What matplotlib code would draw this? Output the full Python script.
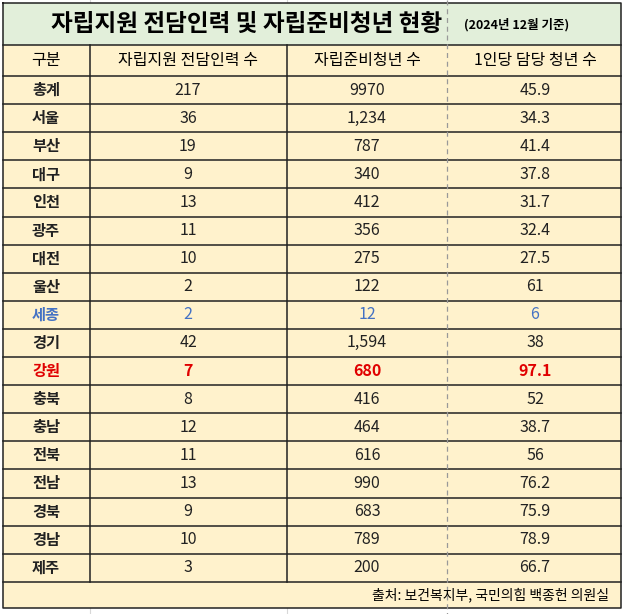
import matplotlib
matplotlib.use("Agg")
import matplotlib.pyplot as plt
from matplotlib.patches import Rectangle

title = "자립지원 전담인력 및 자립준비청년 현황"
subtitle = "(2024년 12월 기준)"
headers = ["구분", "자립지원 전담인력 수", "자립준비청년 수", "1인당 담당 청년 수"]
regions = ["총계", "서울", "부산", "대구", "인천", "광주", "대전", "울산", "세종", "경기",
           "강원", "충북", "충남", "전북", "전남", "경북", "경남", "제주"]
staff = ["217", "36", "19", "9", "13", "11", "10", "2", "2", "42", "7", "8", "12", "11", "13", "9", "10", "3"]
youth = ["9970", "1,234", "787", "340", "412", "356", "275", "122", "12", "1,594", "680", "416", "464", "616", "990", "683", "789", "200"]
per = ["45.9", "34.3", "41.4", "37.8", "31.7", "32.4", "27.5", "61", "6", "38", "97.1", "52", "38.7", "56", "76.2", "75.9", "78.9", "66.7"]
source = "출처: 보건복지부, 국민의힘 백종헌 의원실"

W, H = 627, 614
fig = plt.figure(figsize=(W/100, H/100), dpi=100)
ax = fig.add_axes([0, 0, 1, 1])
ax.set_xlim(0, W); ax.set_ylim(H, 0); ax.axis("off")
F = "Noto Sans CJK KR"

L, R = 3, 621
top, t_bot, h_bot = 3, 45, 76
rh = 28.1
body_bot = h_bot + rh*len(regions)
bot = 608

for x in [90, 287]:
    ax.plot([x, x], [0, H], color="#d8d8d8", lw=0.8, zorder=0)
ax.add_patch(Rectangle((L, top), R-L, t_bot-top, fc="#E2EFDA", ec="none", zorder=1))
ax.add_patch(Rectangle((L, t_bot), R-L, bot-t_bot, fc="#FFF2CC", ec="none", zorder=1))
lk = dict(color="#222222", lw=1.1, zorder=3)
ax.plot([L, R, R, L, L], [top, top, bot, bot, top], **lk)
ax.plot([L, R], [t_bot, t_bot], **lk)
for i in range(len(regions)+1):
    y = h_bot + rh*i
    ax.plot([L, R], [y, y], **lk)
for x in [90, 287]:
    ax.plot([x, x], [t_bot, body_bot], **lk)
ax.plot([447, 447], [0, H], color="#999999", lw=0.9, ls=(0, (4, 3)), zorder=4)

ax.text(247, 24, title, fontfamily=F, fontweight="black", fontsize=17, ha="center", va="center", zorder=5)
ax.text(517, 25, subtitle, fontfamily=F, fontweight="black", fontsize=9, ha="center", va="center", zorder=5)
colc = [46, 188, 367, 535]
for c, h in zip(colc, headers):
    ax.text(c, (t_bot+h_bot)/2, h, fontfamily=F, fontsize=11.5, ha="center", va="center", zorder=5)
for i, reg in enumerate(regions):
    y = h_bot + rh*(i+0.5)
    col = "#222222"
    w = "light"
    if reg == "세종":
        col = "#4472C4"; w = "medium"
    elif reg == "강원":
        col = "#E00000"; w = "bold"
    if reg == "총계":
        w = "medium"
    ax.text(colc[0], y, reg, fontfamily=F, fontweight="bold", fontsize=11, color=col, ha="center", va="center", zorder=5)
    for c, v in zip(colc[1:], [staff[i], youth[i], per[i]]):
        ax.text(c, y, v, fontfamily=F, fontweight=w, fontsize=11.5, color=col, ha="center", va="center", zorder=5)
ax.text(R-12, (body_bot+bot)/2, source, fontfamily=F, fontsize=10, ha="right", va="center", zorder=5)
fig.savefig("out.png", dpi=100)
